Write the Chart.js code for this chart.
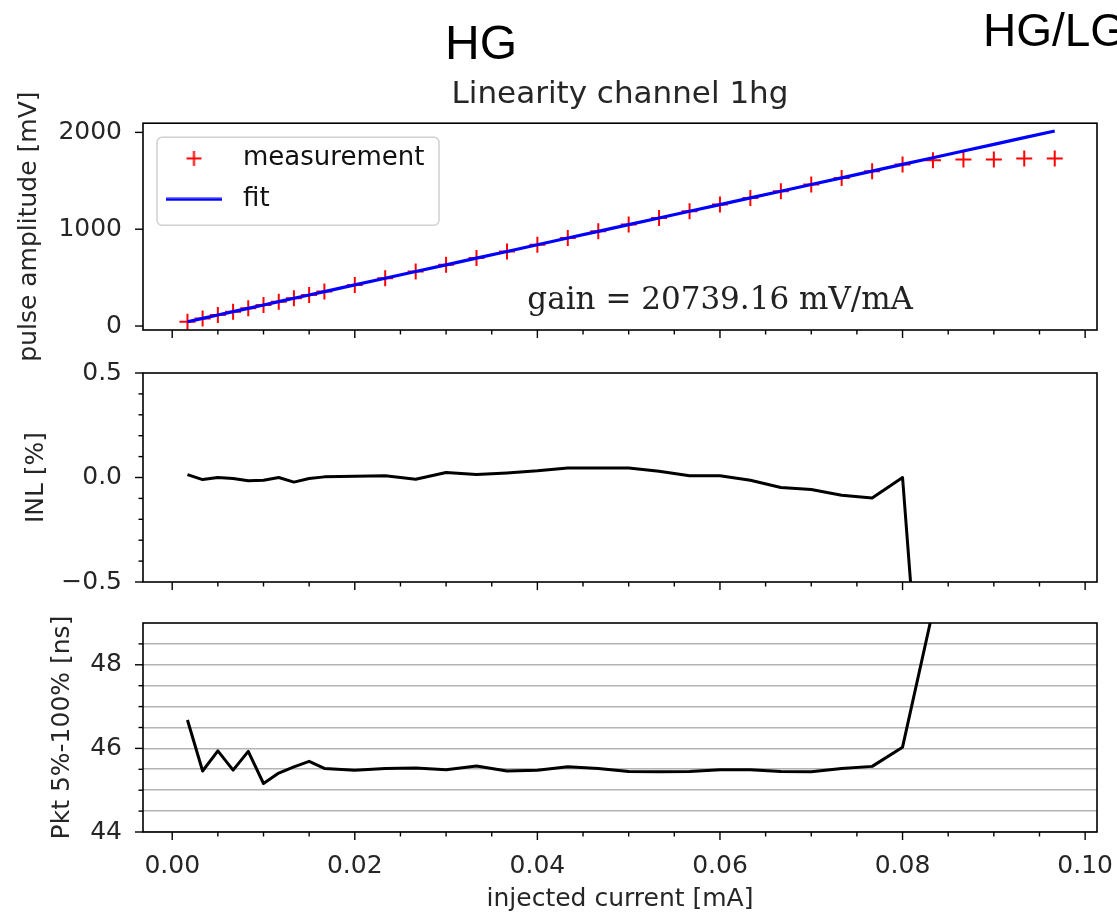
<!DOCTYPE html>
<html>
<head>
<meta charset="utf-8">
<script src="https://cdn.jsdelivr.net/npm/chart.js@4.4.1/dist/chart.umd.min.js"></script>
<style>
  html, body { margin: 0; padding: 0; background: #fff; }
  body { width: 1117px; height: 916px; position: relative; overflow: hidden; }
  canvas { position: absolute; left: 0; }
  .slide { position: absolute; font-family: "Liberation Sans", Arial, sans-serif; color: #000; white-space: nowrap; }
</style>
</head>
<body>
<canvas id="ampChart" width="1117" height="380" style="top:0"></canvas>
<canvas id="inlChart" width="1117" height="255" style="top:345px"></canvas>
<canvas id="pktChart" width="1117" height="316" style="top:600px"></canvas>
<div class="slide" style="left:445px; top:19px; font-size:48px; line-height:48px;">HG</div>
<div class="slide" style="left:983px; top:7px; font-size:46px; line-height:46px;">HG/LG</div>
<script>
// injected current steps [mA]
const xCurrent = [0.00167, 0.00333, 0.005, 0.00667, 0.00833, 0.01, 0.01167, 0.01333, 0.015, 0.01667,
  0.02, 0.02333, 0.02667, 0.03, 0.03333, 0.03667, 0.04, 0.04333, 0.04667, 0.05,
  0.05333, 0.05667, 0.06, 0.06333, 0.06667, 0.07, 0.07333, 0.07667, 0.08, 0.08333,
  0.08667, 0.09, 0.09333, 0.09667];

// pulse amplitude [mV]
const measured = [44.9, 78.9, 113.7, 148.2, 182.5, 217.1, 252.0, 286.1, 321.0, 355.8,
  424.9, 494.1, 562.8, 632.7, 701.6, 770.9, 840.2, 909.6, 978.7, 1047.9,
  1116.7, 1185.4, 1254.5, 1323.2, 1391.6, 1460.6, 1529.2, 1598.0, 1669.1, 1713,
  1720, 1721, 1731, 1731];
const fitted = [44.6, 79.1, 113.7, 148.3, 182.8, 217.4, 252.0, 286.5, 321.1, 355.7,
  424.8, 493.9, 563.0, 632.2, 701.3, 770.4, 839.6, 908.7, 977.8, 1047.0,
  1116.1, 1185.2, 1254.3, 1323.5, 1392.6, 1461.7, 1530.9, 1600.0, 1669.1, 1738.3,
  1807.4, 1876.5, 1945.7, 2014.8];

// INL [%]
const inl = [0.014, -0.010, 0.000, -0.005, -0.016, -0.013, 0.000, -0.022, -0.005, 0.003,
  0.006, 0.008, -0.008, 0.024, 0.014, 0.022, 0.032, 0.046, 0.046, 0.045,
  0.030, 0.008, 0.008, -0.013, -0.048, -0.057, -0.085, -0.098, 0.000, -1.9,
  -6.2, -11.0, -15.4, -20.3];

// peaking time 5%-100% [ns]
const peaking = [46.68, 45.46, 45.94, 45.48, 45.93, 45.16, 45.41, 45.56, 45.69, 45.52,
  45.48, 45.52, 45.53, 45.49, 45.58, 45.46, 45.48, 45.56, 45.52, 45.45,
  45.44, 45.45, 45.49, 45.49, 45.45, 45.44, 45.52, 45.57, 46.03, 49.3,
  51.0, 52.4, 53.6, 54.5];

// ticks
const xTicksMajor = [0, 0.02, 0.04, 0.06, 0.08, 0.1];
const xTicksMinor = [0.005, 0.01, 0.015, 0.025, 0.03, 0.035, 0.045, 0.05, 0.055, 0.065, 0.07, 0.075, 0.085, 0.09, 0.095];
const ampTicks = [0, 1000, 2000];
const inlTicksMajor = [-0.5, 0, 0.5];
const inlTicksMinor = [-0.4, -0.3, -0.2, -0.1, 0.1, 0.2, 0.3, 0.4];
const pktTicksMajor = [44, 46, 48];
const pktTicksMinor = [44.5, 45, 45.5, 46.5, 47, 47.5, 48.5];

const gainText = 'gain = 20739.16 mV/mA';
const gainAt = [0.0389, 175];

const xMin = -0.0032, xMax = 0.1013;
const ink = '#262626';
const xTicksAll = xTicksMajor.concat(xTicksMinor).sort((a, b) => a - b);

Chart.defaults.font.family = '"DejaVu Sans", sans-serif';
Chart.defaults.font.size = 25;
Chart.defaults.color = ink;

function toPoints(ys) {
    return xCurrent.map((x, i) => ({ x: x, y: ys[i] }));
}

function xAxis(showLabels, height) {
    return {
        type: 'linear', min: xMin, max: xMax,
        afterBuildTicks: s => { s.ticks = xTicksAll.map(v => ({ value: v })); },
        afterFit: s => { s.height = height; s.paddingLeft = 0; s.paddingRight = 0; },
        border: { display: false },
        grid: { drawTicks: false, drawOnChartArea: false },
        ticks: {
            display: showLabels, padding: 19, autoSkip: false, maxRotation: 0, minRotation: 0,
            callback: v => xTicksMajor.includes(v) ? v.toFixed(2) : ''
        },
        title: { display: showLabels, text: 'injected current [mA]', padding: { top: 0, bottom: 2 } }
    };
}

function yAxis(min, max, major, minor, fmt, title, titlePad, gridOn) {
    const all = major.concat(minor).sort((a, b) => a - b);
    return {
        min: min, max: max,
        afterBuildTicks: s => { s.ticks = all.map(v => ({ value: v })); },
        afterFit: s => { s.width = 143; s.paddingTop = 0; s.paddingBottom = 0; },
        border: { display: false },
        grid: { drawTicks: false, drawOnChartArea: gridOn, color: '#b4b4b4', lineWidth: 1.6 },
        ticks: { padding: 21, autoSkip: false, callback: v => major.includes(v) ? fmt(v) : '' },
        title: { display: true, text: title, padding: { top: titlePad } }
    };
}

// axes box and matplotlib-like major/minor tick marks
function frameTicks(xMajor, yMajor) {
    return {
        id: 'frameTicks',
        afterDraw(chart) {
            const { ctx, chartArea: a, scales } = chart;
            ctx.save();
            ctx.strokeStyle = '#000';
            ctx.lineWidth = 1.4;
            scales.x.ticks.forEach(t => {
                const px = scales.x.getPixelForValue(t.value);
                const len = xMajor.includes(t.value) ? 8 : 4.5;
                ctx.beginPath(); ctx.moveTo(px, a.bottom); ctx.lineTo(px, a.bottom + len); ctx.stroke();
            });
            scales.y.ticks.forEach(t => {
                const py = scales.y.getPixelForValue(t.value);
                const len = yMajor.includes(t.value) ? 8 : 4.5;
                ctx.beginPath(); ctx.moveTo(a.left, py); ctx.lineTo(a.left - len, py); ctx.stroke();
            });
            ctx.lineWidth = 1.6;
            ctx.strokeRect(a.left, a.top, a.right - a.left, a.bottom - a.top);
            ctx.restore();
        }
    };
}

// title centred over the axes, legend moved inside the axes
const placeBlocks = {
    id: 'placeBlocks',
    afterLayout(chart) {
        const a = chart.chartArea;
        if (chart.titleBlock) {
            chart.titleBlock.left = a.left;
            chart.titleBlock.right = a.right;
        }
        if (chart.legend) {
            chart.legend.top = a.top;
            chart.legend.bottom = a.bottom;
        }
    }
};

const legendFrame = {
    id: 'legendFrame',
    beforeDraw(chart) {
        const { ctx, chartArea: a } = chart;
        ctx.save();
        ctx.beginPath();
        ctx.roundRect(a.left + 14, a.top + 14, 282, 88, 5);
        ctx.fillStyle = 'rgba(255,255,255,0.8)';
        ctx.fill();
        ctx.strokeStyle = '#d0d0d0';
        ctx.lineWidth = 1.5;
        ctx.stroke();
        ctx.restore();
    }
};

const gainLabel = {
    id: 'gainLabel',
    afterDatasetsDraw(chart) {
        const { ctx, scales } = chart;
        ctx.save();
        ctx.font = '31px "DejaVu Serif", serif';
        ctx.fillStyle = '#222';
        ctx.textAlign = 'left';
        ctx.textBaseline = 'alphabetic';
        ctx.fillText(gainText, scales.x.getPixelForValue(gainAt[0]), scales.y.getPixelForValue(gainAt[1]));
        ctx.restore();
    }
};

function markCanvas(w, h, draw) {
    const c = document.createElement('canvas');
    c.width = w; c.height = h;
    draw(c.getContext('2d'));
    return c;
}
const legendMarks = [
    markCanvas(17, 17, g => {
        g.strokeStyle = '#ff0000'; g.lineWidth = 2;
        g.beginPath(); g.moveTo(8.5, 1); g.lineTo(8.5, 16); g.moveTo(1, 8.5); g.lineTo(16, 8.5); g.stroke();
    }),
    markCanvas(56, 4, g => { g.fillStyle = '#0000ff'; g.fillRect(0, 0.5, 56, 3); })
];

// Pulse amplitude
new Chart(document.getElementById('ampChart'), {
    type: 'scatter',
    data: {
        datasets: [{
            label: 'measurement',
            data: toPoints(measured),
            pointStyle: 'cross', pointRadius: 8, pointBorderWidth: 2,
            pointBorderColor: '#ff0000', pointBackgroundColor: '#ff0000',
            borderColor: '#ff0000', backgroundColor: '#ff0000',
            order: 1
        }, {
            label: 'fit',
            data: toPoints(fitted),
            showLine: true, pointRadius: 0,
            borderColor: '#0000ff', backgroundColor: '#0000ff', borderWidth: 3.2,
            order: 0
        }]
    },
    options: {
        responsive: false, animation: false, events: [],
        layout: { padding: { top: 0, right: 20, bottom: 0, left: 0 }, autoPadding: false },
        scales: {
            x: xAxis(false, 50),
            y: yAxis(-41, 2095, ampTicks, [], v => String(v), 'pulse amplitude [mV]', 14, false)
        },
        plugins: {
            title: {
                display: true, text: 'Linearity channel 1hg', color: ink,
                font: { size: 31, weight: 'normal' }, padding: { top: 76, bottom: 10 }
            },
            legend: {
                position: 'chartArea', align: 'start',
                title: { display: true, text: '', font: { size: 1 }, padding: { top: 6, bottom: 0 } },
                labels: {
                    usePointStyle: true, pointStyleWidth: 72, padding: 15, color: '#111',
                    font: { size: 26 },
                    generateLabels(chart) {
                        const items = Chart.defaults.plugins.legend.labels.generateLabels(chart);
                        items.sort((a, b) => a.datasetIndex - b.datasetIndex);
                        items.forEach(it => { it.pointStyle = legendMarks[it.datasetIndex]; });
                        return items;
                    }
                }
            },
            tooltip: { enabled: false }
        }
    },
    plugins: [placeBlocks, legendFrame, gainLabel, frameTicks(xTicksMajor, ampTicks)]
});

// INL
new Chart(document.getElementById('inlChart'), {
    type: 'scatter',
    data: {
        datasets: [{
            label: 'INL',
            data: toPoints(inl),
            showLine: true, pointRadius: 0,
            borderColor: '#000', borderWidth: 3, borderJoinStyle: 'round'
        }]
    },
    options: {
        responsive: false, animation: false, events: [],
        layout: { padding: { top: 28, right: 20, bottom: 0, left: 0 }, autoPadding: false },
        scales: {
            x: xAxis(false, 18),
            y: yAxis(-0.5, 0.5, inlTicksMajor, inlTicksMinor, v => v.toFixed(1).replace('-', '\u2212'), 'INL [%]', 21, false)
        },
        plugins: { legend: { display: false }, tooltip: { enabled: false } }
    },
    plugins: [frameTicks(xTicksMajor, inlTicksMajor)]
});

// Peaking time
new Chart(document.getElementById('pktChart'), {
    type: 'scatter',
    data: {
        datasets: [{
            label: 'Pkt',
            data: toPoints(peaking),
            showLine: true, pointRadius: 0,
            borderColor: '#000', borderWidth: 3, borderJoinStyle: 'round'
        }]
    },
    options: {
        responsive: false, animation: false, events: [],
        layout: { padding: { top: 23, right: 20, bottom: 0, left: 0 }, autoPadding: false },
        scales: {
            x: xAxis(true, 84),
            y: yAxis(44, 49, pktTicksMajor, pktTicksMinor, v => String(v), 'Pkt 5%-100% [ns]', 47, true)
        },
        plugins: { legend: { display: false }, tooltip: { enabled: false } }
    },
    plugins: [frameTicks(xTicksMajor, pktTicksMajor)]
});
</script>
</body>
</html>
